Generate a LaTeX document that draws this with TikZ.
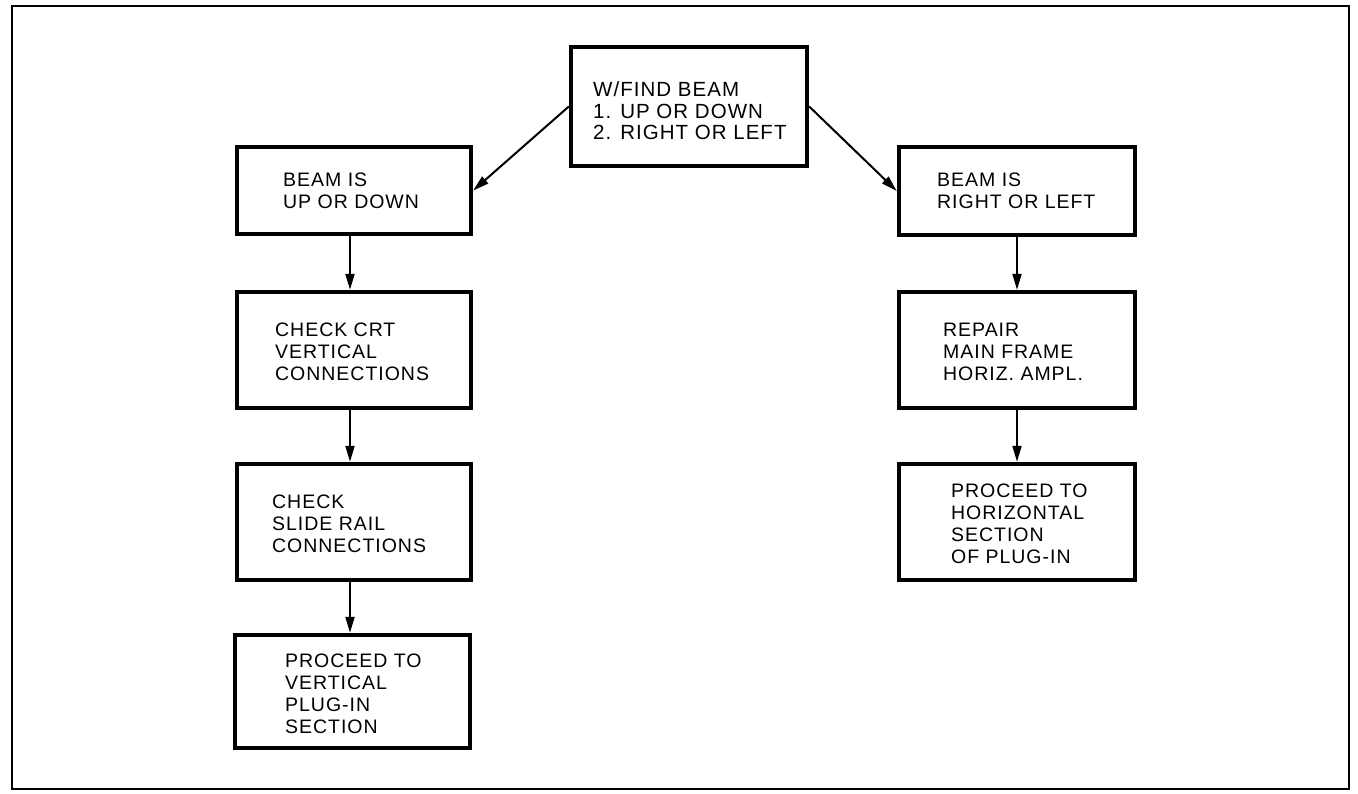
\documentclass[tikz,border=0pt]{standalone}
\usepackage{fontspec}
\setmainfont{Liberation Sans}[LetterSpace=5]
\usetikzlibrary{arrows.meta}
\begin{document}
\begin{tikzpicture}[x=1pt,y=-1pt,
  box/.style={draw, line width=4.4pt, inner sep=0pt},
  lbl/.style={anchor=west, align=left, inner sep=0pt, font=\fontsize{19.5}{22}\selectfont},
  arr/.style={line width=2pt, -{Triangle[length=16pt,width=9pt]}},
  frame/.style={draw, line width=2pt}]
\useasboundingbox[fill=white] (0,0) rectangle (1358,793);
\draw[frame] (12,6) rectangle (1349,789);
% boxes
\node[box, minimum width=236pt, minimum height=119pt] (top) at (689,106.5) {};
\node[box, minimum width=234pt, minimum height=87pt]  (l1) at (354,190.5) {};
\node[box, minimum width=234pt, minimum height=116pt] (l2) at (354,350) {};
\node[box, minimum width=234pt, minimum height=116pt] (l3) at (354,522) {};
\node[box, minimum width=235pt, minimum height=113pt] (l4) at (352.5,691.5) {};
\node[box, minimum width=236pt, minimum height=88pt]  (r1) at (1017,191) {};
\node[box, minimum width=236pt, minimum height=116pt] (r2) at (1017,350) {};
\node[box, minimum width=236pt, minimum height=116pt] (r3) at (1017,522) {};
% labels
\node[lbl, font=\fontsize{20.5}{21.5}\selectfont] (ttop) at (593,111) {W/FIND BEAM\\1. UP OR DOWN\\2. RIGHT OR LEFT};
\node[lbl] (tl1) at (283,191) {BEAM IS\\UP OR DOWN};
\node[lbl] (tl2) at (275,352) {CHECK CRT\\VERTICAL\\CONNECTIONS};
\node[lbl] (tl3) at (272,524) {CHECK\\SLIDE RAIL\\CONNECTIONS};
\node[lbl] (tl4) at (285,694) {PROCEED TO\\VERTICAL\\PLUG-IN\\SECTION};
\node[lbl] (tr1) at (937,191) {BEAM IS\\RIGHT OR LEFT};
\node[lbl] (tr2) at (943,352) {REPAIR\\MAIN FRAME\\HORIZ. AMPL.};
\node[lbl] (tr3) at (951,524) {PROCEED TO\\HORIZONTAL\\SECTION\\OF PLUG-IN};
% connectors
\draw[arr] (top.west) -- (l1.east);
\draw[arr] (top.east) -- (r1.west);
\draw[arr] ([xshift=-4pt]l1.south) -- ([xshift=-4pt]l1.south |- l2.north);
\draw[arr] ([xshift=-4pt]l2.south) -- ([xshift=-4pt]l2.south |- l3.north);
\draw[arr] ([xshift=-4pt]l3.south) -- ([xshift=-4pt]l3.south |- l4.north);
\draw[arr] (r1.south) -- (r2.north);
\draw[arr] (r2.south) -- (r3.north);
\end{tikzpicture}
\end{document}
